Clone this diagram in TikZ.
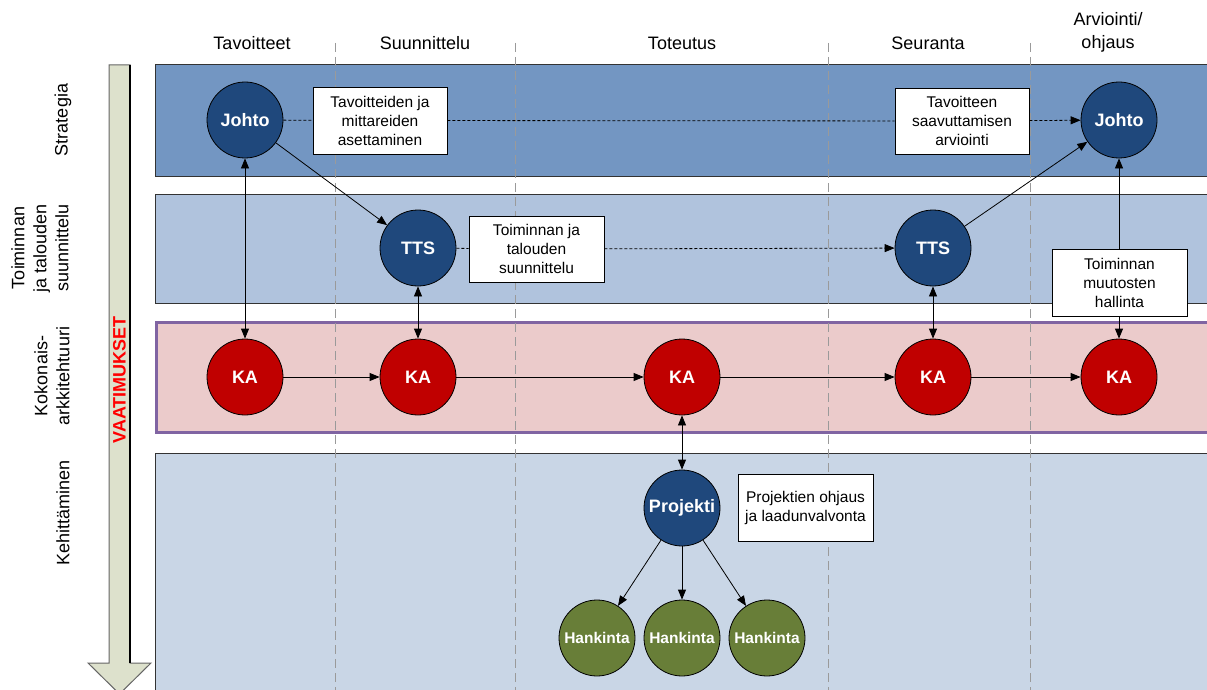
\documentclass[tikz,border=0pt]{standalone}
\usepackage{fontspec}
\setmainfont{Liberation Sans}
\usetikzlibrary{arrows.meta}

\definecolor{laneA}{HTML}{7396C2}
\definecolor{laneB}{HTML}{B0C3DD}
\definecolor{laneC}{HTML}{EBCBCB}
\definecolor{laneD}{HTML}{C9D6E6}
\definecolor{lanepurple}{HTML}{8064A2}
\definecolor{nodeblue}{HTML}{1F487C}
\definecolor{nodered}{HTML}{C00000}
\definecolor{nodegreen}{HTML}{687E38}
\definecolor{arrowfill}{HTML}{DDE1CC}
\definecolor{phaseline}{HTML}{9A9A9A}

\tikzset{
  tri/.tip={Triangle[length=10pt,width=8pt]},
  circnode/.style={circle, draw=black, line width=0.8pt, minimum size=76pt,
    inner sep=0pt, text=white, font=\bfseries\fontsize{18}{20}\selectfont},
  bluenode/.style={circnode, fill=nodeblue},
  rednode/.style={circnode, fill=nodered},
  greennode/.style={circnode, fill=nodegreen, font=\bfseries\fontsize{15.5}{18}\selectfont},
  textbox/.style={draw=black, fill=white, line width=0.8pt, align=center,
    font=\fontsize{15.5}{19}\selectfont, inner sep=0pt},
  lane/.style={draw=black!80, line width=1pt},
  phase/.style={draw=phaseline, line width=1pt, dash pattern=on 9pt off 5pt},
  header/.style={font=\fontsize{18}{23}\selectfont, align=center},
  sidelabel/.style={font=\fontsize{18}{22}\selectfont, align=center, rotate=90},
  flow/.style={line width=0.8pt},
  dotflow/.style={line width=0.8pt, dash pattern=on 3pt off 2pt},
}

\begin{document}
\begin{tikzpicture}[x=1pt,y=-1pt]
\useasboundingbox (0,0) rectangle (1207,690);
\clip (0,0) rectangle (1207,690);
\fill[white] (0,0) rectangle (1207,690);

% swim lanes
\filldraw[lane, fill=laneA] (155,65) rectangle (1215,176);
\filldraw[lane, fill=laneB] (155,194) rectangle (1215,303);
\filldraw[fill=laneC, draw=lanepurple, line width=3pt] (156,322) rectangle (1215,432);
\filldraw[lane, fill=laneD] (155,453) rectangle (1215,700);

% phase separators
\foreach \x in {335,515,828,1030}
  \draw[phase] (\x,43) -- (\x,692);

% phase headers
\node[header] (hTav) at (252,43) {Tavoitteet};
\node[header] (hSuu) at (425,43) {Suunnittelu};
\node[header] (hTot) at (682,43) {Toteutus};
\node[header] (hSeu) at (928,43) {Seuranta};
\node[header] (hArv) at (1108,32) {Arviointi/\\ohjaus};

% lane labels
\node[sidelabel] (lStr) at (63,120) {Strategia};
\node[sidelabel] (lToi) at (40,248) {Toiminnan\\ja talouden\\suunnittelu};
\node[sidelabel] (lKok) at (52,376) {Kokonais-\\arkkitehtuuri};
\node[sidelabel] (lKeh) at (63,513) {Kehittäminen};

% requirements arrow
\filldraw[fill=arrowfill, draw=black!60, line width=1pt]
  (109,65) -- (130,65) -- (130,663) -- (151,663) -- (119.5,694)
  -- (88,663) -- (109,663) -- cycle;
\draw[black, line width=1.3pt] (130,65) -- (130,663);
\node[rotate=90, text=red, font=\bfseries\fontsize{18}{20}\selectfont] (vaat) at (119.5,380) {VAATIMUKSET};

% nodes
\node[bluenode] (J1) at (245,120) {Johto};
\node[bluenode] (J2) at (1119,120) {Johto};
\node[bluenode] (T1) at (418,248) {TTS};
\node[bluenode] (T2) at (933,248) {TTS};
\node[rednode] (K1) at (245,377) {KA};
\node[rednode] (K2) at (418,377) {KA};
\node[rednode] (K3) at (682,377) {KA};
\node[rednode] (K4) at (933,377) {KA};
\node[rednode] (K5) at (1119,377) {KA};
\node[bluenode] (P) at (682,508) {Projekti};
\node[greennode] (H1) at (597,638) {Hankinta};
\node[greennode] (H2) at (682,638) {Hankinta};
\node[greennode] (H3) at (767,638) {Hankinta};

% text boxes
\node[textbox, minimum width=134pt, minimum height=67pt] (b1) at (380,120.5)
  {Tavoitteiden ja\\mittareiden\\asettaminen};
\node[textbox, minimum width=134pt, minimum height=66pt] (b2) at (962,121)
  {Tavoitteen\\saavuttamisen\\arviointi};
\node[textbox, minimum width=135pt, minimum height=66pt] (b3) at (536.5,249)
  {Toiminnan ja\\talouden\\suunnittelu};
\node[textbox, minimum width=135pt, minimum height=67pt] (b5) at (805.5,507.5)
  {Projektien ohjaus\\ja laadunvalvonta};

% strategy flow
\draw[dotflow] (J1) -- (b1);
\draw[dotflow] (b1) -- (b2);
\draw[dotflow, -tri] (b2) -- (J2);
\draw[flow, -tri] (J1) -- (T1);
\draw[dotflow] (T1) -- (b3);
\draw[dotflow, -tri] (b3) -- (T2);
\draw[flow, -tri] (T2) -- (J2);

% requirements between levels
\draw[flow, tri-tri] (J1) -- (K1);
\draw[flow, tri-tri] (T1) -- (K2);
\draw[flow, tri-tri] (T2) -- (K4);
\draw[flow, tri-tri] (J2) -- (K5);
\node[textbox, minimum width=135pt, minimum height=67pt] (b4) at (1119.5,282.5)
  {Toiminnan\\muutosten\\hallinta};

% architecture chain
\draw[flow, -tri] (K1) -- (K2);
\draw[flow, -tri] (K2) -- (K3);
\draw[flow, -tri] (K3) -- (K4);
\draw[flow, -tri] (K4) -- (K5);

% development
\draw[flow, tri-tri] (K3) -- (P);
\draw[flow, -tri] (P) -- (H1);
\draw[flow, -tri] (P) -- (H2);
\draw[flow, -tri] (P) -- (H3);
\end{tikzpicture}
\end{document}
